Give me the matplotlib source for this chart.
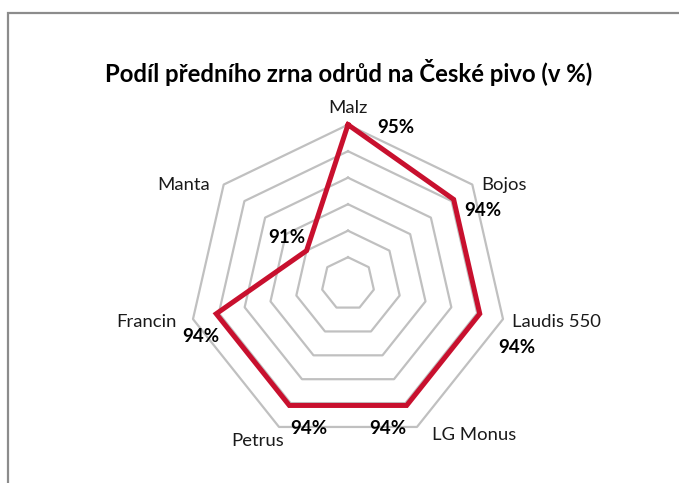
import numpy as np
import matplotlib
matplotlib.use("Agg")
import matplotlib.pyplot as plt
from matplotlib.patches import Rectangle

categories = ["Malz", "Bojos", "Laudis 550", "LG Monus", "Petrus", "Francin", "Manta"]
values = [95.0, 94.1, 94.1, 94.1, 94.1, 94.1, 91.0]
value_labels = ["95%", "94%", "94%", "94%", "94%", "94%", "91%"]
ring_levels = [90, 91, 92, 93, 94, 95]
r_min, r_max = 89, 95
title = "Podíl předního zrna odrůd na České pivo (v %)"

plt.rcParams['font.family'] = ['Lato', 'DejaVu Sans']

W, H, DPI = 679, 483, 100
fig = plt.figure(figsize=(W / DPI, H / DPI), dpi=DPI)

# frame of the chart area (cropped)
fig.add_artist(Rectangle((8 / W, -0.2), 1.5, 1.2 - 12.7 / H, transform=fig.transFigure,
                         fill=False, edgecolor="#8c8c8c", linewidth=1.6, clip_on=False))

cx, cy, R = 348, 283.7, 159
ax = fig.add_axes([(cx - R) / W, (H - cy - R) / H, 2 * R / W, 2 * R / H], projection="polar")
ax.set_theta_offset(np.pi / 2)
ax.set_theta_direction(-1)
ax.set_ylim(r_min, r_max)
ax.grid(False)
ax.set_xticks([])
ax.set_yticks([])
ax.spines["polar"].set_visible(False)
ax.patch.set_alpha(0)

n = len(categories)
angles = np.arange(n) * 2 * np.pi / n
closed_angles = np.append(angles, angles[0])

for lvl in ring_levels:
    ax.plot(closed_angles, [lvl] * (n + 1), color="#c0c0c0", linewidth=1.6, zorder=1, clip_on=False)

vals_closed = values + [values[0]]
ax.plot(closed_angles, vals_closed, color="#c8102e", linewidth=3.6, zorder=3,
        solid_joinstyle="miter", clip_on=False)

# category labels: (offset px, ha, va)
cat_place = [
    ((0, 17), "center", "center"),
    ((9, 0), "left", "center"),
    ((9, -3), "left", "center"),
    ((15, -8), "left", "center"),
    ((5, -14), "right", "center"),
    ((-16, -3), "right", "center"),
    ((-14, 0), "right", "center"),
]
for a, name, (off, ha, va) in zip(angles, categories, cat_place):
    ax.annotate(name, xy=(a, r_max), xytext=off, textcoords="offset pixels",
                ha=ha, va=va, fontsize=13.3, color="#1a1a1a", annotation_clip=False)

lab_off = [(48, -3), (29, -11), (37, -34), (-19, -23), (19, -23), (-15, -23), (-20, 13)]
for a, v, lab, off in zip(angles, values, value_labels, lab_off):
    ax.annotate(lab, xy=(a, v), xytext=off, textcoords="offset pixels",
                ha="center", va="center", fontsize=13.5, fontweight="bold",
                color="#000000", annotation_clip=False)

fig.text(349 / W, 1 - 72 / H, title, ha="center", va="center", fontsize=17.2,
         fontweight="bold", color="#000000")

fig.savefig("out.png", dpi=DPI)
